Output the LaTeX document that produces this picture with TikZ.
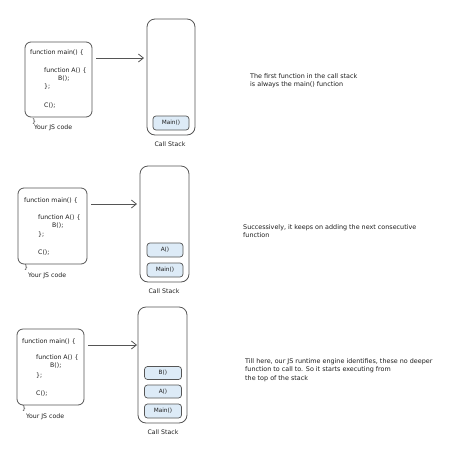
\documentclass[tikz,border=0pt]{standalone}
\usepackage{fontspec}
\setmainfont{DejaVu Sans}
\usetikzlibrary{arrows.meta}
\definecolor{ink}{HTML}{1E1E1E}
\definecolor{edge}{HTML}{555555}
\definecolor{cellfill}{HTML}{DDEBF7}
\tikzset{
  txt/.style={anchor=west,inner sep=0pt,text=ink,font=\fontsize{6.2}{8.5}\selectfont},
  note/.style={anchor=north west,inner sep=0pt,text=ink,align=left,font=\fontsize{6.4}{8.5}\selectfont},
  codebox/.style={draw=edge,line width=0.8pt,rounded corners=6pt},
  stackbox/.style={draw=edge,line width=0.8pt,rounded corners=8pt},
  cell/.style={draw=edge,line width=0.7pt,fill=cellfill,rounded corners=3pt,inner sep=0pt,text=ink,font=\fontsize{5.8}{7}\selectfont},
  flow/.style={draw=edge,line width=0.8pt,-{Straight Barb[length=5pt,width=8pt]}},
  lbl/.style={inner sep=0pt,text=ink,font=\fontsize{6.2}{8}\selectfont}
}
\begin{document}
\begin{tikzpicture}[x=1pt,y=-1pt]
\useasboundingbox[fill=white] (0,0) rectangle (474,464);

% ---------- Panel 1 ----------
\draw[codebox] (25,42) rectangle (92,117);
\node[txt] (c1a) at (30,53) {function main() \{};
\node[txt] (c1b) at (44,71) {function A() \{};
\node[txt] (c1c) at (58,79) {B();};
\node[txt] (c1d) at (44,87) {\};};
\node[txt] (c1e) at (44,106) {C();};
\node[txt] (c1f) at (32,122) {\}};
\node[txt] (c1g) at (34,128) {Your JS code};
\coordinate (a1s) at (96,58);
\coordinate (a1e) at (144,58);
\draw[flow] (a1s) -- (a1e);
\draw[stackbox] (147,19) rectangle (195,135);
\node[cell,minimum width=36pt,minimum height=14pt] (s1m) at (171,123) {Main()};
\node[lbl] (s1l) at (170,144) {Call Stack};
\node[note] (n1) at (250,73) {The first function in the call stack\\is always the main() function};

% ---------- Panel 2 ----------
\draw[codebox] (18,188) rectangle (87,264);
\node[txt] (c2a) at (24,201) {function main() \{};
\node[txt] (c2b) at (38,218) {function A() \{};
\node[txt] (c2c) at (52,226) {B();};
\node[txt] (c2d) at (38,235) {\};};
\node[txt] (c2e) at (38,253) {C();};
\node[txt] (c2f) at (24,268) {\}};
\node[txt] (c2g) at (28,276) {Your JS code};
\coordinate (a2s) at (91,204);
\coordinate (a2e) at (137,204);
\draw[flow] (a2s) -- (a2e);
\draw[stackbox] (140,166) rectangle (189,282);
\node[cell,minimum width=36pt,minimum height=14pt] (s2a) at (165,250) {A()};
\node[cell,minimum width=36pt,minimum height=14pt] (s2m) at (165,270) {Main()};
\node[lbl] (s2l) at (164,291) {Call Stack};
\node[note] (n2) at (243,224) {Successively, it keeps on adding the next consecutive\\function};

% ---------- Panel 3 ----------
\draw[codebox] (17,329) rectangle (84,405);
\node[txt] (c3a) at (22,342) {function main() \{};
\node[txt] (c3b) at (36,358) {function A() \{};
\node[txt] (c3c) at (50,366) {B();};
\node[txt] (c3d) at (36,376) {\};};
\node[txt] (c3e) at (36,394) {C();};
\node[txt] (c3f) at (22,409) {\}};
\node[txt] (c3g) at (26,417) {Your JS code};
\coordinate (a3s) at (88,345);
\coordinate (a3e) at (137,345);
\draw[flow] (a3s) -- (a3e);
\draw[stackbox] (138,307) rectangle (187,423);
\node[cell,minimum width=37pt,minimum height=13pt] (s3b) at (163,373) {B()};
\node[cell,minimum width=37pt,minimum height=13pt] (s3a) at (163,391.5) {A()};
\node[cell,minimum width=37pt,minimum height=14pt] (s3m) at (163,411) {Main()};
\node[lbl] (s3l) at (163,432) {Call Stack};
\node[note] (n3) at (245,358) {Till here, our JS runtime engine identifies, these no deeper\\function to call to. So it starts executing from\\the top of the stack};
\end{tikzpicture}
\end{document}
